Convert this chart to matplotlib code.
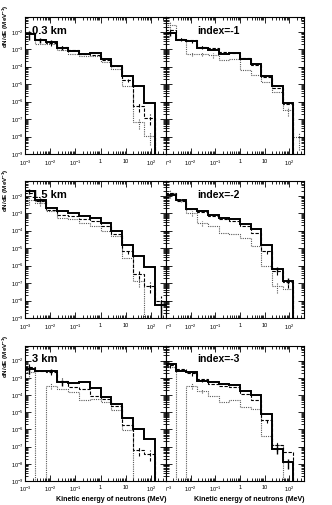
import numpy as np
import matplotlib
matplotlib.use("Agg")
import matplotlib.pyplot as plt
from matplotlib.ticker import LogLocator, NullFormatter, FixedLocator, FixedFormatter
from matplotlib.transforms import Bbox, TransformedBbox

plt.rcParams['font.family'] = ['Liberation Sans', 'DejaVu Sans']
plt.rcParams['mathtext.fontset'] = 'custom'
plt.rcParams['mathtext.rm'] = 'Liberation Sans'
plt.rcParams['mathtext.default'] = 'regular'

# bin edges: e^-7 ... e^6 MeV
edges = np.exp(np.arange(-7, 7))
centers = np.sqrt(edges[:-1] * edges[1:])

# dN/dE per bin (solid / dashed / dotted), 0 = empty bin
tl_solid = [7.0e-3, 3.3e-3, 2.6e-3, 1.1e-3, 8.0e-4, 5.6e-4, 6.4e-4, 2.9e-4, 1.1e-4, 3.1e-5, 7.8e-6, 8.1e-7, 0]
tl_dash = [8.0e-3, 3.6e-3, 2.3e-3, 1.4e-3, 8.8e-4, 5.2e-4, 4.9e-4, 2.3e-4, 1.1e-4, 1.7e-5, 5.3e-7, 1.2e-7, 0]
tl_dot = [8.0e-3, 2.1e-3, 1.9e-3, 8.8e-4, 5.6e-4, 4.2e-4, 4.0e-4, 1.9e-4, 7.8e-5, 7.4e-6, 6.6e-8, 1.1e-8, 0]

tr_solid = [8.0e-3, 3.6e-3, 3.0e-3, 1.2e-3, 9.6e-4, 5.6e-4, 6.4e-4, 2.9e-4, 1.4e-4, 2.9e-5, 7.4e-6, 8.5e-7, 0]
tr_dash = [1.25e-2, 4.1e-3, 3.3e-3, 1.37e-3, 1.1e-3, 7.0e-4, 6.2e-4, 3.3e-4, 1.2e-4, 2.6e-5, 6.2e-6, 7.5e-7, 0]
tr_dot = [2.4e-2, 3.3e-3, 5.6e-4, 5.6e-4, 4.5e-4, 2.3e-4, 2.6e-4, 6.2e-5, 3.2e-5, 1.3e-5, 3.5e-6, 3.1e-7, 9e-9]

ml_solid = [1.8e-2, 5.9e-3, 2.0e-3, 1.3e-3, 1.04e-3, 7.3e-4, 5.4e-4, 2.6e-4, 9.5e-5, 1.5e-5, 3.6e-6, 7.9e-7, 5.3e-9]
ml_dash = [1.4e-2, 4.8e-3, 1.6e-3, 8.4e-4, 7.3e-4, 4.4e-4, 3.5e-4, 1.8e-4, 6.2e-5, 7.0e-6, 3.3e-7, 7.2e-8, 1e-8]
ml_dot = [5.9e-3, 3.8e-3, 1.3e-3, 5.4e-4, 4.4e-4, 2.6e-4, 1.8e-4, 9.5e-5, 4.9e-5, 2.9e-6, 1.4e-7, 0, 0]

mr_solid = [1.14e-2, 5.9e-3, 1.75e-3, 1.4e-3, 8.4e-4, 5.4e-4, 4.75e-4, 2.3e-4, 1.3e-4, 1.5e-5, 6.4e-7, 1.4e-7, 0]
mr_dash = [1.4e-2, 5.2e-3, 1.75e-3, 1.2e-3, 7.3e-4, 4.4e-4, 3.8e-4, 1.8e-4, 7.6e-5, 7.0e-6, 5.1e-7, 1.1e-7, 0]
mr_dot = [1.4e-2, 5.9e-3, 1.04e-3, 2.8e-4, 1.8e-4, 7.6e-5, 6.2e-5, 4.0e-5, 1.3e-5, 9.8e-7, 7.2e-8, 4.7e-8, 0]

bl_solid = [3.3e-3, 2.6e-3, 2.6e-3, 5.5e-4, 4.8e-4, 6.0e-4, 2.5e-4, 7.4e-5, 3.1e-5, 4.5e-6, 9.9e-7, 2.9e-7, 0]
bl_dash = [4.1e-3, 2.6e-3, 2.1e-3, 6.9e-4, 2.8e-4, 2.3e-4, 9.3e-5, 6.0e-5, 2.4e-5, 1.7e-6, 6.0e-8, 3.8e-8, 0]
bl_dot = [2.1e-3, 0, 3.5e-4, 2.3e-4, 1.45e-4, 4.8e-5, 6.0e-5, 3.8e-5, 1.26e-5, 8.7e-7, 0, 0, 0]

br_solid = [6.4e-3, 2.6e-3, 2.1e-3, 6.9e-4, 5.5e-4, 4.4e-4, 3.9e-4, 1.8e-4, 1.06e-4, 8.0e-6, 7.5e-8, 1.26e-8, 0]
br_dash = [5.6e-3, 3.3e-3, 1.9e-3, 8.6e-4, 4.4e-4, 3.5e-4, 2.8e-4, 1.16e-4, 4.8e-5, 3.3e-6, 1.17e-7, 4.8e-8, 0]
br_dot = [4.1e-3, 0, 3.5e-4, 1.8e-4, 9.3e-5, 3.8e-5, 4.8e-5, 1.96e-5, 1.57e-5, 4.4e-7, 1.17e-7, 0, 0]

# relative errors of the visible error bars (0 = bar too small to see)
tl_solid_err = [0.5, 0.3, 0.25, 0.2, 0, 0, 0, 0, 0, 0, 0, 0, 0]
tl_dash_err = [0, 0.3, 0.3, 0.3, 0, 0, 0, 0, 0, 0.2, 0.5, 0.6, 0]
tl_dot_err = [0.5, 0, 0, 0, 0, 0, 0, 0, 0, 0, 0.6, 0.7, 0]
tr_solid_err = [0.3, 0, 0, 0, 0, 0, 0, 0, 0, 0, 0, 0, 0]
tr_dash_err = [0.3, 0.3, 0.3, 0.2, 0, 0, 0, 0, 0, 0, 0, 0, 0]
tr_dot_err = [0.5, 0, 0.3, 0.3, 0.3, 0, 0, 0, 0, 0, 0, 0.5, 0.8]
ml_solid_err = [0.3, 0.3, 0, 0, 0, 0, 0, 0, 0, 0, 0, 0, 0.8]
ml_dash_err = [0, 0, 0, 0, 0, 0, 0, 0, 0, 0.3, 0.5, 0.6, 0.8]
ml_dot_err = [0.5, 0.3, 0, 0, 0, 0, 0, 0, 0, 0, 0.6, 0, 0]
mr_solid_err = [0, 0, 0, 0, 0, 0, 0, 0, 0, 0, 0.3, 0.4, 0]
mr_dash_err = [0.3, 0, 0, 0, 0, 0, 0, 0, 0, 0.3, 0.4, 0.5, 0]
mr_dot_err = [0.5, 0.3, 0.3, 0.3, 0, 0, 0, 0, 0, 0, 0.6, 0, 0]
bl_solid_err = [0.5, 0, 0.3, 0.4, 0, 0, 0, 0, 0, 0, 0, 0, 0]
bl_dash_err = [0.5, 0, 0.3, 0.4, 0, 0, 0, 0, 0, 0, 0.5, 0.6, 0]
bl_dot_err = [0.6, 0, 0.4, 0, 0, 0, 0, 0, 0, 0, 0, 0, 0]
br_solid_err = [0, 0, 0, 0, 0, 0, 0, 0, 0, 0, 0.5, 0.6, 0]
br_dash_err = [0.3, 0, 0.3, 0.3, 0, 0, 0, 0, 0, 0.3, 0.5, 0, 0]
br_dot_err = [0, 0, 0.4, 0.3, 0, 0, 0, 0, 0, 0, 0.5, 0, 0]

labels = ["0.3 km", "index=-1", "1.5 km", "index=-2", "3 km", "index=-3"]
panels = [(tl_solid, tl_dash, tl_dot), (tr_solid, tr_dash, tr_dot),
          (ml_solid, ml_dash, ml_dot), (mr_solid, mr_dash, mr_dot),
          (bl_solid, bl_dash, bl_dot), (br_solid, br_dash, br_dot)]
panel_errs = [(tl_solid_err, tl_dash_err, tl_dot_err), (tr_solid_err, tr_dash_err, tr_dot_err),
              (ml_solid_err, ml_dash_err, ml_dot_err), (mr_solid_err, mr_dash_err, mr_dot_err),
              (bl_solid_err, bl_dash_err, bl_dot_err), (br_solid_err, br_dash_err, br_dot_err)]

xticks = [1e-3, 1e-2, 1e-1, 1, 10, 100]
xticklabels = [r'$10^{-3}$', r'$10^{-2}$', r'$10^{-1}$', '1', '10', r'$10^{2}$']
yticks = [1e-9, 1e-8, 1e-7, 1e-6, 1e-5, 1e-4, 1e-3, 1e-2]
yticklabels = [r'$10^{%d}$' % e for e in range(-9, -1)]

# style per series: solid, dashed, dotted
styles = [dict(color='black', lw=1.4, ls='-'),
          dict(color='black', lw=0.8, ls=(0, (3, 1.5))),
          dict(color='0.35', lw=0.8, ls=(0, (1, 1)))]

W, H = 332, 505
fig = plt.figure(figsize=(W / 100, H / 100), dpi=100)

rows = [(17, 154), (181, 318), (346, 481)]
cols = [(25, 166), (166, 304)]
right_clip = TransformedBbox(Bbox([[166 / W, 0], [1, 1]]), fig.transFigure)


def draw_hist(ax, vals, errs, st):
    v = np.array(vals, dtype=float)
    e = np.array(errs, dtype=float)
    ax.stairs(np.where(v > 0, v, 1e-14), edges, baseline=None,
              color=st['color'], lw=st['lw'], ls=st['ls'])
    m = (v > 0) & (e > 0)
    if m.any():
        ebar = ax.errorbar(centers[m], v[m], yerr=[v[m] * e[m], v[m] * e[m]],
                           fmt='none', ecolor=st['color'], elinewidth=min(st['lw'], 1.0),
                           capsize=0)
        ebar[2][0].set_linestyle(st['ls'])


for i, (vals, errs, lab) in enumerate(zip(panels, panel_errs, labels)):
    r, c = divmod(i, 2)
    x0, x1 = cols[c]
    y0, y1 = rows[r]
    ax = fig.add_axes([x0 / W, 1 - y1 / H, (x1 - x0) / W, (y1 - y0) / H])
    ax.set_xscale('log')
    ax.set_yscale('log')

    for k in (2, 1, 0):
        draw_hist(ax, vals[k], errs[k], styles[k])

    ax.set_xlim(1e-3, 4e2)
    ax.set_ylim(1e-9, 7e-2)

    ax.xaxis.set_major_locator(FixedLocator(xticks))
    ax.xaxis.set_major_formatter(FixedFormatter(xticklabels))
    ax.xaxis.set_minor_locator(LogLocator(base=10, subs=np.arange(2, 10), numticks=20))
    ax.xaxis.set_minor_formatter(NullFormatter())
    ax.yaxis.set_major_locator(FixedLocator(yticks))
    ax.yaxis.set_major_formatter(FixedFormatter(yticklabels))
    ax.yaxis.set_minor_locator(LogLocator(base=10, subs=np.arange(2, 10), numticks=20))
    ax.yaxis.set_minor_formatter(NullFormatter())
    ax.tick_params(which='both', direction='in', top=True, right=True,
                   labelsize=4.1, width=0.6)
    ax.tick_params(axis='x', pad=3.0 if r == 2 else 3.4)
    ax.tick_params(axis='y', pad=0.8)
    ax.tick_params(which='major', length=4)
    ax.tick_params(which='minor', length=2)
    for s in ax.spines.values():
        s.set_linewidth(0.8)
    if c == 1:
        ax.tick_params(labelleft=False)
        fig.canvas.draw()
        for t in ax.get_xticklabels():
            t.set_clip_on(True)
            t.set_clip_box(right_clip)
        ax.text(0.23, 0.9, lab, transform=ax.transAxes, fontsize=7.5,
                fontweight='bold', va='center', ha='left')
    else:
        ax.text(-0.138, 1.09, r'dN/dE (MeV$^{-1}$)', transform=ax.transAxes,
                rotation=90, ha='center', va='top', fontsize=4.5, fontweight='bold')
        ax.text(0.05, 0.9, lab, transform=ax.transAxes, fontsize=8,
                fontweight='bold', va='center', ha='left')
    if r == 2:
        ax.text(1.0, -0.112, 'Kinetic energy of neutrons (MeV)', transform=ax.transAxes,
                fontsize=5, fontweight='bold', ha='right', va='top')

fig.savefig('out.png', dpi=100)
